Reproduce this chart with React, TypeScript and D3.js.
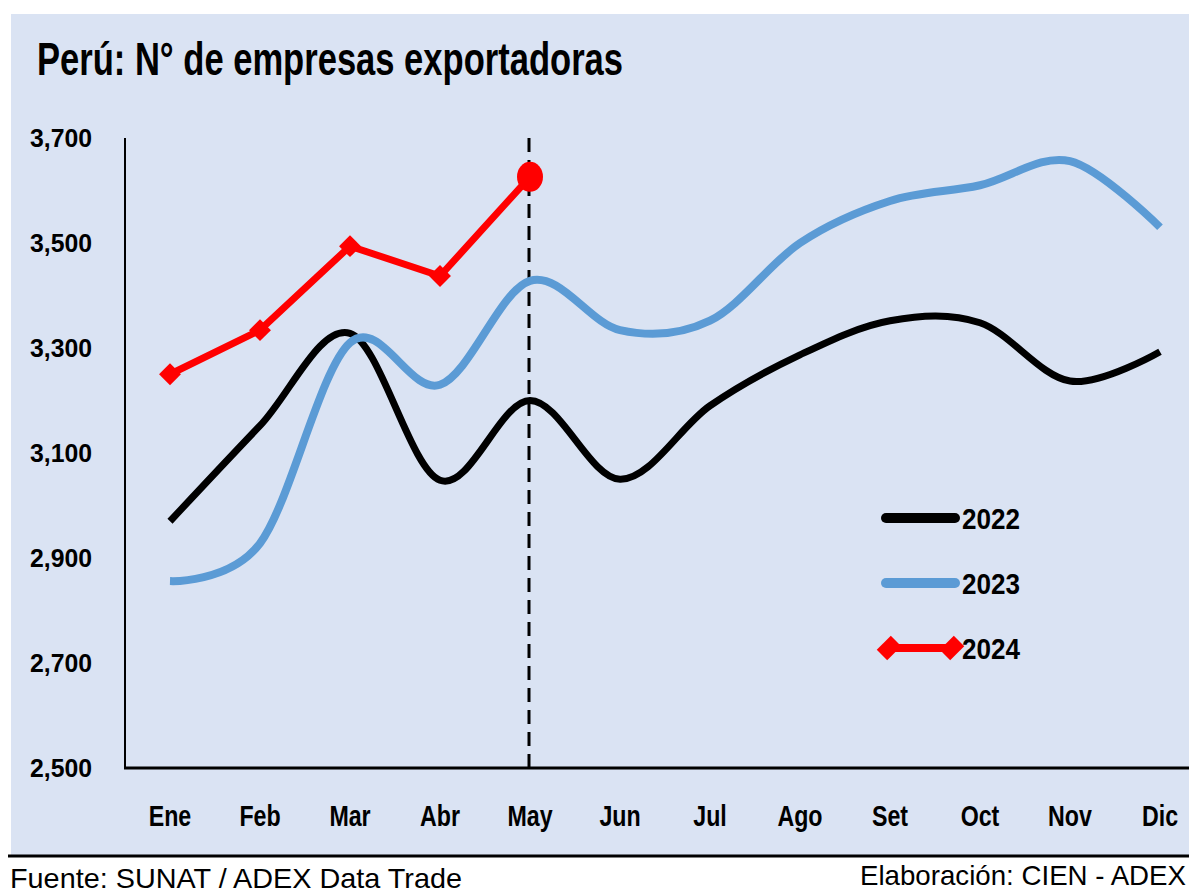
import React from 'react';
import * as d3 from 'd3';

const months = ['Ene', 'Feb', 'Mar', 'Abr', 'May', 'Jun', 'Jul', 'Ago', 'Set', 'Oct', 'Nov', 'Dic'];
const values2022 = [2970, 3152, 3328, 3048, 3200, 3050, 3190, 3287, 3352, 3348, 3237, 3293];
const values2023 = [2856, 2928, 3310, 3230, 3428, 3334, 3352, 3500, 3580, 3610, 3656, 3530];
const values2024 = [3250, 3334, 3494, 3437, 3626];
const yTicks = [2500, 2700, 2900, 3100, 3300, 3500, 3700];

const W = 1189;
const H = 893;
const FONT = '"Liberation Sans Narrow", "Liberation Sans", Arial, sans-serif';

const App = () => {
  const x = d3.scaleBand<string>().domain(months).range([125, 1205]);
  const cx = (m: string) => (x(m) ?? 0) + x.bandwidth() / 2;
  const y = d3.scaleLinear().domain([2500, 3700]).range([768, 138]);

  const smooth = d3.line<number>()
    .x((_, i) => cx(months[i]))
    .y(d => y(d))
    .curve(d3.curveCardinal.tension(0));
  const straight = d3.line<number>()
    .x((_, i) => cx(months[i]))
    .y(d => y(d));

  const diamond = d3.symbol(d3.symbolSquare, 240)();
  const bigDiamond = d3.symbol(d3.symbolSquare, 300)();
  const fmt = d3.format(',');
  const last = values2024.length - 1;

  return (
    <svg width={W} height={H} style={{ position: 'absolute', left: 0, top: 0, display: 'block' }}>
      <rect x={0} y={0} width={W} height={H} fill="#ffffff" />
      <rect x={11} y={14} width={W - 11} height={842} fill="#dae3f3" />

      <text x={37} y={75} fontFamily={FONT} fontWeight="bold" fontSize={46} textLength={586} lengthAdjust="spacingAndGlyphs">
        Perú: N° de empresas exportadoras
      </text>

      {yTicks.map(t => (
        <text key={t} x={92} y={y(t)} dy="0.35em" textAnchor="end" fontFamily={FONT} fontWeight="bold"
          fontSize={26} textLength={62} lengthAdjust="spacingAndGlyphs">
          {fmt(t)}
        </text>
      ))}

      {months.map(m => (
        <text key={m} transform={`translate(${cx(m)},826) scale(0.8,1)`} textAnchor="middle"
          fontFamily={FONT} fontWeight="bold" fontSize={29}>
          {m}
        </text>
      ))}

      <line x1={529} x2={529} y1={138} y2={768} stroke="#000" strokeWidth={3} strokeDasharray="14 8" />

      <line x1={125} x2={125} y1={138} y2={768} stroke="#000" strokeWidth={2} />
      <line x1={124} x2={W} y1={768} y2={768} stroke="#000" strokeWidth={3} />

      <path d={smooth(values2022) ?? ''} fill="none" stroke="#000000" strokeWidth={7} />
      <path d={smooth(values2023) ?? ''} fill="none" stroke="#5b9bd5" strokeWidth={8} />
      <path d={straight(values2024) ?? ''} fill="none" stroke="#ff0000" strokeWidth={7} />
      {values2024.slice(0, last).map((v, i) => (
        <path key={i} d={diamond ?? ''} fill="#ff0000"
          transform={`translate(${cx(months[i])},${y(v)}) rotate(45)`} />
      ))}
      <ellipse cx={cx(months[last])} cy={y(values2024[last])} rx={13} ry={15} fill="#ff0000" />

      <line x1={886} x2={955} y1={518} y2={518} stroke="#000" strokeWidth={10} strokeLinecap="round" />
      <line x1={886} x2={955} y1={583} y2={583} stroke="#5b9bd5" strokeWidth={10} strokeLinecap="round" />
      <line x1={889} x2={952} y1={648} y2={648} stroke="#ff0000" strokeWidth={8} />
      <path d={bigDiamond ?? ''} fill="#ff0000" transform="translate(889,648) rotate(45) scale(0.85,1.15)" />
      <path d={bigDiamond ?? ''} fill="#ff0000" transform="translate(952,648) rotate(45) scale(0.85,1.15)" />
      {['2022', '2023', '2024'].map((s, i) => (
        <text key={s} x={962} y={529 + i * 65} fontFamily={FONT} fontWeight="bold" fontSize={30}
          textLength={58} lengthAdjust="spacingAndGlyphs">
          {s}
        </text>
      ))}

      <line x1={8} x2={W} y1={856} y2={856} stroke="#000" strokeWidth={3} />
      <text x={10} y={888} fontFamily={FONT} fontSize={28} textLength={452} lengthAdjust="spacingAndGlyphs">
        Fuente: SUNAT / ADEX Data Trade
      </text>
      <text x={860} y={885} fontFamily={FONT} fontSize={28} textLength={326} lengthAdjust="spacingAndGlyphs">
        Elaboración: CIEN - ADEX
      </text>
    </svg>
  );
};

export default App;
